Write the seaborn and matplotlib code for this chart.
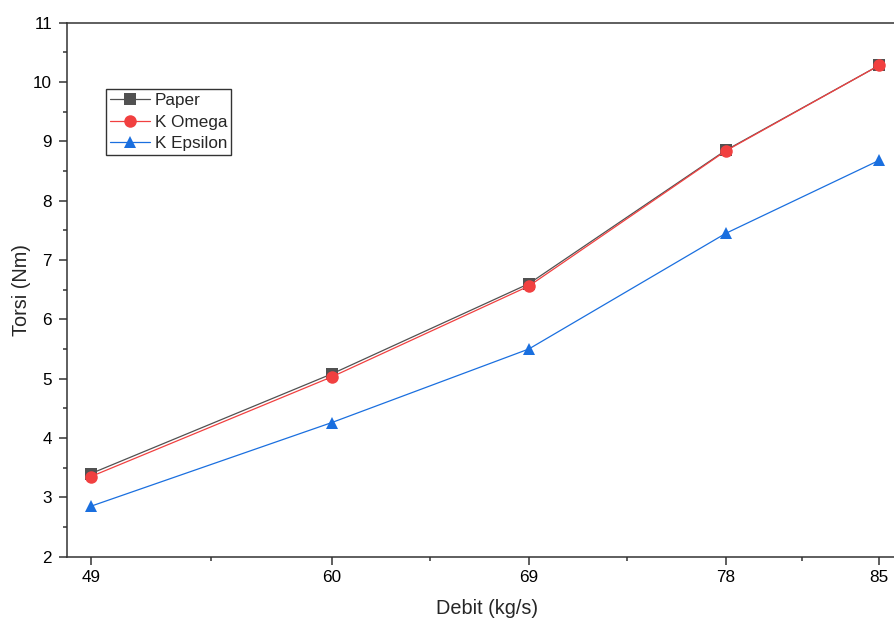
import pandas as pd
import matplotlib
matplotlib.use("Agg")
import matplotlib.pyplot as plt
import seaborn as sns
from matplotlib.ticker import AutoMinorLocator

# data
debit = [49, 60, 69, 78, 85]
paper = [3.40, 5.08, 6.60, 8.85, 10.28]
k_omega = [3.35, 5.03, 6.56, 8.84, 10.28]
k_epsilon = [2.85, 4.26, 5.50, 7.45, 8.68]
series_names = ["Paper", "K Omega", "K Epsilon"]
x_minor = [54.5, 64.5, 73.5, 81.5]

df = pd.DataFrame({
    "Debit": debit * 3,
    "Torsi": paper + k_omega + k_epsilon,
    "Model": [n for n in series_names for _ in debit],
})

sns.set_theme(style="white")
plt.rcParams["font.family"] = ["Liberation Sans", "DejaVu Sans"]
plt.rcParams.update({
    "font.size": 12,
    "axes.labelsize": 14.3,
    "xtick.labelsize": 12.3,
    "ytick.labelsize": 12.3,
    "axes.edgecolor": "#333333",
    "axes.linewidth": 1.1,
    "xtick.color": "#333333",
    "ytick.color": "#333333",
    "xtick.labelcolor": "black",
    "ytick.labelcolor": "black",
})

fig = plt.figure(figsize=(8.94, 6.19), dpi=100)
ax = fig.add_axes([66.7 / 894, 1 - 556.7 / 619, 1 - 66.7 / 894, (556.7 - 22.7) / 619])

palette = {"Paper": "#515151", "K Omega": "#F14040", "K Epsilon": "#1A6FDF"}
markers = {"Paper": "s", "K Omega": "o", "K Epsilon": "^"}
sns.lineplot(data=df, x="Debit", y="Torsi", hue="Model", style="Model",
             markers=markers, dashes=False, palette=palette,
             markersize=9, linewidth=0.9, markeredgewidth=0, ax=ax)

ax.set_xlim(47.9, 85.68)
ax.set_ylim(2, 11)
ax.set_xticks(debit)
ax.set_xticks(x_minor, minor=True)
ax.yaxis.set_minor_locator(AutoMinorLocator(2))
ax.tick_params(axis="x", which="major", direction="out", length=5.5, width=1.1,
               bottom=True, top=False, pad=4)
ax.tick_params(axis="y", which="major", direction="out", length=5.5, width=1.1,
               left=True, right=False, pad=5)
ax.tick_params(which="minor", direction="out", length=3, width=1.1,
               bottom=True, left=True, top=False, right=False)
ax.spines["right"].set_visible(False)

ax.set_xlabel("Debit (kg/s)")
ax.set_ylabel("Torsi (Nm)")
ax.xaxis.set_label_coords((487.5 - 66.7) / (894 - 66.7), -(599 - 556.7) / 534)
ax.yaxis.set_label_coords(-(66.7 - 31.5) / (894 - 66.7), 0.5)

handles, labels = ax.get_legend_handles_labels()
leg = ax.legend(handles, labels, loc="upper left",
                bbox_to_anchor=(106 / 894, 1 - 89 / 619), bbox_transform=fig.transFigure,
                frameon=True, fancybox=False, framealpha=1, edgecolor="#333333",
                borderaxespad=0, borderpad=0.22, labelspacing=0.4,
                handlelength=2.35, handletextpad=0.3, fontsize=12.3)
leg.get_frame().set_linewidth(1.0)

fig.savefig("out.png", dpi=100)
